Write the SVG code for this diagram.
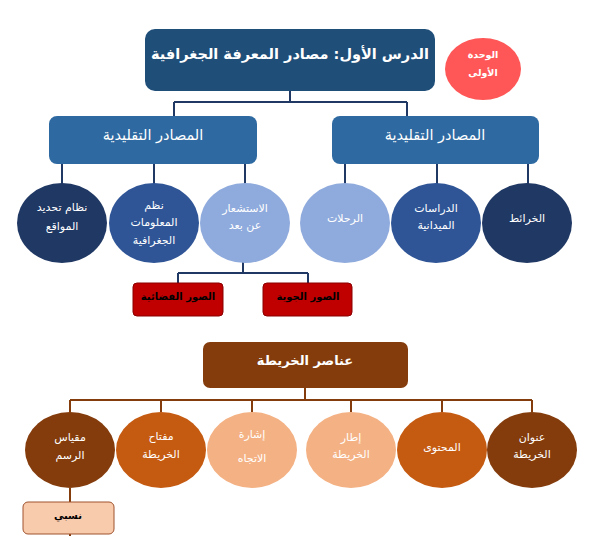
<svg xmlns="http://www.w3.org/2000/svg" width="594" height="536" viewBox="0 0 594 536">
<style>
text{font-family:"DejaVu Sans","Liberation Sans",sans-serif;text-anchor:middle;dominant-baseline:middle}
.w{fill:#fff;font-weight:bold}
.wn{fill:#fff}
.k{fill:#000;font-weight:bold}
.nav{stroke:#1f3864;stroke-width:2;fill:none}
.brn{stroke:#843c0c;stroke-width:2;fill:none}
</style>
<rect width="594" height="536" fill="#fff"/>
<g id="connectors">
<path class="nav" d="M290 91V102M174 102H407M174 102V116M407 102V116"/>
<path class="nav" d="M62 164V185M154 164V185M245 164V185M345 164V185M437 164V185M528 164V185"/>
<path class="nav" d="M243 262V273M178 273H308M178 273V284M308 273V284"/>
<path class="brn" d="M305 388V400M70 400H532M70 400V412M161 400V412M252 400V412M351 400V412M442 400V412M532 400V412"/>
<path class="brn" d="M70 488V502M70 534V536"/>
</g>
<g id="title">
<rect x="145" y="29" width="290" height="62" rx="10" fill="#1f4e79"/>
<text x="290" y="55" class="w" font-size="14.5">الدرس الأول: مصادر المعرفة الجغرافية</text>
</g>
<g id="unit">
<ellipse cx="483" cy="69" rx="38" ry="31" fill="#ff5757"/>
<text x="483" y="55" class="w" font-size="9.5">الوحدة</text>
<text x="483" y="73" class="w" font-size="9.5">الأولى</text>
</g>
<g id="src-left">
<rect x="49" y="116" width="208" height="48" rx="8" fill="#2e6aa1"/>
<text x="153" y="136" class="wn" font-size="14.5">المصادر التقليدية</text>
</g>
<g id="src-right">
<rect x="332" y="116" width="207" height="48" rx="8" fill="#2e6aa1"/>
<text x="435" y="136" class="wn" font-size="14.5">المصادر التقليدية</text>
</g>
<g id="gps">
<ellipse cx="62" cy="223" rx="45" ry="40" fill="#203864"/>
<text x="62" y="208" class="wn" font-size="11">نظام تحديد</text>
<text x="62" y="227" class="wn" font-size="11">المواقع</text>
</g>
<g id="gis">
<ellipse cx="154" cy="223" rx="45" ry="40" fill="#2f5597"/>
<text x="154" y="206" class="wn" font-size="11">نظم</text>
<text x="154" y="223" class="wn" font-size="11">المعلومات</text>
<text x="154" y="241" class="wn" font-size="11">الجغرافية</text>
</g>
<g id="rs">
<ellipse cx="245" cy="223" rx="45" ry="40" fill="#8faadc"/>
<text x="245" y="209" class="wn" font-size="11">الاستشعار</text>
<text x="245" y="226" class="wn" font-size="11">عن بعد</text>
</g>
<g id="trips">
<ellipse cx="345" cy="223" rx="45" ry="40" fill="#8faadc"/>
<text x="345" y="219" class="wn" font-size="11">الرحلات</text>
</g>
<g id="field">
<ellipse cx="436" cy="223" rx="45" ry="40" fill="#2f5597"/>
<text x="436" y="209" class="wn" font-size="11">الدراسات</text>
<text x="436" y="226" class="wn" font-size="11">الميدانية</text>
</g>
<g id="maps">
<ellipse cx="527" cy="223" rx="45" ry="40" fill="#203864"/>
<text x="527" y="219" class="wn" font-size="11">الخرائط</text>
</g>
<g id="sat">
<rect x="133" y="283" width="90" height="33" rx="4" fill="#c00000" stroke="#8b0000"/>
<text x="178" y="297" class="k" font-size="10">الصور الفضائية</text>
</g>
<g id="aerial">
<rect x="263" y="283" width="89" height="33" rx="4" fill="#c00000" stroke="#8b0000"/>
<text x="308" y="297" class="k" font-size="10">الصور الجوية</text>
</g>
<g id="elements">
<rect x="203" y="342" width="205" height="46" rx="7" fill="#843c0c"/>
<text x="305" y="361" class="w" font-size="13">عناصر الخريطة</text>
</g>
<g id="scale">
<ellipse cx="70" cy="450" rx="45" ry="38" fill="#843c0c"/>
<text x="70" y="438" class="wn" font-size="11">مقياس</text>
<text x="70" y="456" class="wn" font-size="11">الرسم</text>
</g>
<g id="legend">
<ellipse cx="161" cy="450" rx="45" ry="38" fill="#c55a11"/>
<text x="161" y="437" class="wn" font-size="11">مفتاح</text>
<text x="161" y="455" class="wn" font-size="11">الخريطة</text>
</g>
<g id="north">
<ellipse cx="252" cy="450" rx="45" ry="38" fill="#f4b183"/>
<text x="252" y="435" class="wn" font-size="11">إشارة</text>
<text x="252" y="459" class="wn" font-size="11">الاتجاه</text>
</g>
<g id="frame">
<ellipse cx="351" cy="450" rx="45" ry="38" fill="#f4b183"/>
<text x="351" y="438" class="wn" font-size="11">إطار</text>
<text x="351" y="455" class="wn" font-size="11">الخريطة</text>
</g>
<g id="content">
<ellipse cx="442" cy="450" rx="45" ry="38" fill="#c55a11"/>
<text x="442" y="448" class="wn" font-size="11">المحتوى</text>
</g>
<g id="maptitle">
<ellipse cx="532" cy="450" rx="45" ry="38" fill="#843c0c"/>
<text x="532" y="438" class="wn" font-size="11">عنوان</text>
<text x="532" y="455" class="wn" font-size="11">الخريطة</text>
</g>
<g id="relative">
<rect x="23" y="502" width="91" height="32" rx="5" fill="#f8cbad" stroke="#a0522d"/>
<text x="68" y="516" class="k" font-size="10">نسبي</text>
</g>
</svg>
